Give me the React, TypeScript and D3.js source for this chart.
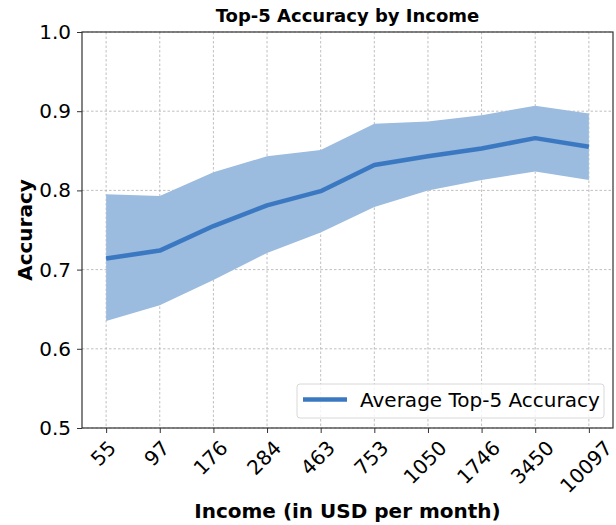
import * as d3 from 'd3';
import { useRef, useEffect } from "react"

const incomes = ["55", "97", "176", "284", "463", "753", "1050", "1746", "3450", "10097"]
const meanAcc = [0.714, 0.724, 0.755, 0.781, 0.799, 0.832, 0.843, 0.853, 0.866, 0.855]
const upperAcc = [0.795, 0.793, 0.823, 0.843, 0.851, 0.884, 0.887, 0.895, 0.907, 0.897]
const lowerAcc = [0.635, 0.655, 0.687, 0.721, 0.747, 0.779, 0.800, 0.813, 0.824, 0.813]
const yTicks = [0.5, 0.6, 0.7, 0.8, 0.9, 1.0]

function App() {
    const ref = useRef<SVGSVGElement | null>(null)

    useEffect(() => {
        renderChart();
    }, [])

    function renderChart() {
        const W = 616, H = 525
        const margin = {top: 32, right: 3, bottom: 97, left: 82}
        const width = W - margin.left - margin.right
        const height = H - margin.top - margin.bottom
        const font = "DejaVu Sans"

        const root = d3.select(ref.current!)
        root.selectAll("*").remove()
        const svg = root.append("g")
            .attr("transform", "translate(" + margin.left + "," + margin.top + ")")

        const x = d3.scalePoint<string>()
            .domain(incomes)
            .range([0, width])
            .padding(0.45)
        const y = d3.scaleLinear()
            .domain([0.5, 1.0])
            .range([height, 0])

        // grid
        const grid = svg.append("g")
        grid.selectAll("line.vx")
            .data(incomes)
            .enter().append("line")
            .attr("x1", d => x(d)!).attr("x2", d => x(d)!)
            .attr("y1", 0).attr("y2", height)
        grid.selectAll("line.hy")
            .data(yTicks)
            .enter().append("line")
            .attr("x1", 0).attr("x2", width)
            .attr("y1", d => y(d)).attr("y2", d => y(d))
        grid.selectAll("line")
            .attr("stroke", "#b0b0b0")
            .attr("stroke-width", 0.8)
            .attr("stroke-dasharray", "2.5,2")

        const idx = d3.range(incomes.length)

        // band
        const area = d3.area<number>()
            .x(i => x(incomes[i])!)
            .y0(i => y(lowerAcc[i]))
            .y1(i => y(upperAcc[i]))
        svg.append("path")
            .datum(idx)
            .attr("d", area)
            .attr("fill", "#9bbbdf")

        // mean line
        const line = d3.line<number>()
            .x(i => x(incomes[i])!)
            .y(i => y(meanAcc[i]))
        svg.append("path")
            .datum(idx)
            .attr("d", line)
            .attr("fill", "none")
            .attr("stroke", "#3b78c2")
            .attr("stroke-width", 4.5)
            .attr("stroke-linejoin", "round")

        // frame
        svg.append("rect")
            .attr("width", width).attr("height", height)
            .attr("fill", "none")
            .attr("stroke", "#333")
            .attr("stroke-width", 1.2)

        // y axis
        const yAxis = svg.append("g")
            .call(d3.axisLeft(y).tickValues(yTicks).tickFormat(d3.format(".1f")).tickSize(5).tickPadding(6))
        yAxis.select(".domain").remove()
        yAxis.selectAll(".tick line").attr("stroke", "#333")
        yAxis.selectAll("text")
            .attr("font-family", font)
            .attr("font-size", 20)
            .attr("fill", "#000")

        // x axis, labels rotated 45deg and centred on the tick (matplotlib style)
        const xAxis = svg.append("g")
            .attr("transform", "translate(0," + height + ")")
            .call(d3.axisBottom(x).tickSize(5).tickPadding(4))
        xAxis.select(".domain").remove()
        xAxis.selectAll(".tick line").attr("stroke", "#333")
        xAxis.selectAll<SVGTextElement, string>("text")
            .attr("font-family", font)
            .attr("font-size", 20)
            .attr("fill", "#000")
            .attr("text-anchor", "middle")
            .attr("dy", "0.32em")
            .attr("y", 0)
            .each(function () {
                const w = this.getComputedTextLength()
                const half = (w + 22) / (2 * Math.SQRT2)
                d3.select(this).attr("transform", "translate(-3," + (9 + half) + ") rotate(-45)")
            })

        // title
        root.append("text")
            .attr("x", margin.left + width / 2)
            .attr("y", 22)
            .attr("text-anchor", "middle")
            .attr("font-family", font)
            .attr("font-weight", "bold")
            .attr("font-size", 18)
            .text("Top-5 Accuracy by Income")

        // axis labels
        root.append("text")
            .attr("x", margin.left + width / 2)
            .attr("y", 518)
            .attr("text-anchor", "middle")
            .attr("font-family", font)
            .attr("font-weight", "bold")
            .attr("font-size", 20)
            .text("Income (in USD per month)")
        root.append("text")
            .attr("transform", "translate(32," + (margin.top + height / 2) + ") rotate(-90)")
            .attr("text-anchor", "middle")
            .attr("font-family", font)
            .attr("font-weight", "bold")
            .attr("font-size", 20)
            .text("Accuracy")

        // legend
        const lg = svg.append("g")
            .attr("transform", "translate(" + (297 - margin.left) + "," + (384 - margin.top) + ")")
        lg.append("rect")
            .attr("width", 307).attr("height", 34)
            .attr("rx", 3)
            .attr("fill", "#fff").attr("fill-opacity", 0.8)
            .attr("stroke", "#d8d8d8")
        lg.append("line")
            .attr("x1", 6).attr("x2", 50)
            .attr("y1", 15.5).attr("y2", 15.5)
            .attr("stroke", "#3b78c2").attr("stroke-width", 4.5)
        lg.append("text")
            .attr("x", 63).attr("y", 22.5)
            .attr("font-family", font)
            .attr("font-size", 20)
            .text("Average Top-5 Accuracy")
    }

    return (
        <div style={{ position: 'absolute', left: 0, top: 0 }}>
            <svg width={616} height={525} ref={ref} style={{ display: 'block' }} />
        </div>
    )
}

export default App;
